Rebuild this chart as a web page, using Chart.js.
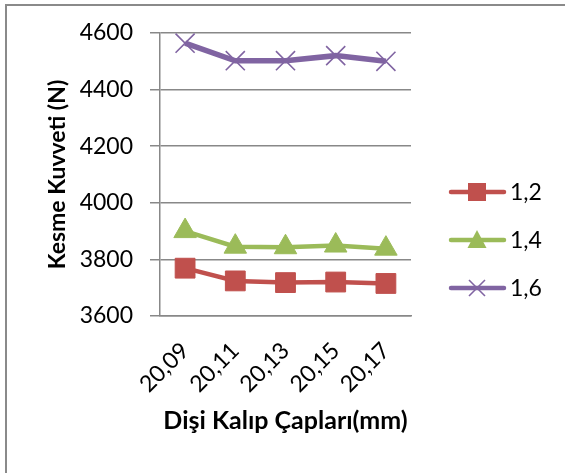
<!DOCTYPE html>
<html>
<head>
<meta charset="utf-8">
<script src="https://cdn.jsdelivr.net/npm/chart.js@4"></script>
<style>
html,body{margin:0;padding:0;background:#fff;}
#wrap{width:565px;height:473px;position:relative;}
</style>
</head>
<body>
<div id="wrap"><canvas id="c" width="565" height="473"></canvas></div>
<script>
const categories = ["20,09", "20,11", "20,13", "20,15", "20,17"];
const seriesNames = ["1,2", "1,4", "1,6"];
const values12 = [3769, 3724, 3718, 3720, 3715];
const values14 = [3900, 3845, 3843, 3849, 3838];
const values16 = [4564, 4502, 4502, 4520, 4500];
const yTicks = [3600, 3800, 4000, 4200, 4400, 4600];
const yTitle = "Kesme Kuvveti (N)";
const xTitle = "Dişi Kalıp Çapları(mm)";

const colors = ["#C0504D", "#9BBB59", "#8064A2"];
const styles = ["rect", "triangle", "crossRot"];
const FONT = "Lato, 'Liberation Sans', sans-serif";

const frame = {
  id: 'frame',
  beforeDraw(chart) {
    const ctx = chart.ctx;
    ctx.save();
    ctx.strokeStyle = '#8a8a8a';
    ctx.lineWidth = 2;
    ctx.strokeRect(6, 5, 600, 500);
    ctx.restore();
  }
};

const legendPlugin = {
  id: 'customLegend',
  afterDraw(chart) {
    const ctx = chart.ctx;
    const ys = [192, 240, 288];
    ctx.save();
    chart.data.datasets.forEach((ds, i) => {
      const y = ys[i];
      ctx.strokeStyle = colors[i];
      ctx.lineWidth = 4.5;
      ctx.lineCap = 'round';
      ctx.beginPath();
      ctx.moveTo(451, y);
      ctx.lineTo(504, y);
      ctx.stroke();
      const cx = 477;
      ctx.fillStyle = colors[i];
      if (i === 0) {
        ctx.fillRect(cx - 9, y - 9, 18, 18);
      } else if (i === 1) {
        ctx.beginPath();
        ctx.moveTo(cx, y - 10);
        ctx.lineTo(cx + 9.5, y + 8);
        ctx.lineTo(cx - 9.5, y + 8);
        ctx.closePath();
        ctx.fill();
      } else {
        ctx.lineWidth = 1.6;
        ctx.lineCap = 'butt';
        ctx.beginPath();
        ctx.moveTo(cx - 8, y - 8); ctx.lineTo(cx + 8, y + 8);
        ctx.moveTo(cx + 8, y - 8); ctx.lineTo(cx - 8, y + 8);
        ctx.stroke();
      }
      ctx.fillStyle = '#000';
      ctx.font = "23px " + FONT;
      ctx.textAlign = 'left';
      ctx.textBaseline = 'middle';
      ctx.fillText(seriesNames[i], 510, y + 1);
    });
    ctx.restore();
  }
};

const allValues = [values12, values14, values16];
const datasets = allValues.map((v, i) => ({
  label: seriesNames[i],
  data: v,
  borderColor: colors[i],
  backgroundColor: colors[i],
  borderWidth: i === 2 ? 5.5 : 4.5,
  pointStyle: styles[i],
  pointRadius: i === 0 ? 14 : (i === 1 ? 13 : 13.5),
  pointBorderWidth: i === 2 ? 1.6 : 1,
  pointBorderColor: colors[i],
  pointBackgroundColor: colors[i],
  tension: 0,
  fill: false
}));

new Chart(document.getElementById('c'), {
  type: 'line',
  data: { labels: categories, datasets: datasets },
  plugins: [frame, legendPlugin],
  options: {
    responsive: false,
    animation: false,
    events: [],
    layout: { padding: { left: 44, right: 154, top: 33, bottom: 37 } },
    plugins: { legend: { display: false }, tooltip: { enabled: false } },
    scales: {
      x: {
        offset: true,
        grid: { display: false, drawTicks: false },
        border: { display: true, color: '#888', width: 1.5 },
        ticks: {
          minRotation: 45, maxRotation: 45, padding: 21,
          color: '#000', font: { family: FONT, size: 23 }
        },
        title: {
          display: true, text: xTitle, color: '#000',
          font: { family: FONT, size: 25, weight: 'bold' },
          padding: 0
        },
        afterFit(s) { s.height = 120; }
      },
      y: {
        min: 3600, max: 4600,
        afterBuildTicks(s) { s.ticks = yTicks.map(v => ({ value: v })); },
        grid: { color: '#888', lineWidth: 1.5, tickLength: 10, drawTicks: true },
        border: { display: true, color: '#888', width: 1.5 },
        ticks: {
          padding: 17, color: '#000', font: { family: FONT, size: 23 },
          callback: (v) => String(v)
        },
        title: {
          display: true, text: yTitle, color: '#000',
          font: { family: FONT, size: 23, weight: 'bold' },
          padding: 0
        },
        afterFit(s) { s.width = 116; }
      }
    }
  }
});
</script>
</body>
</html>
